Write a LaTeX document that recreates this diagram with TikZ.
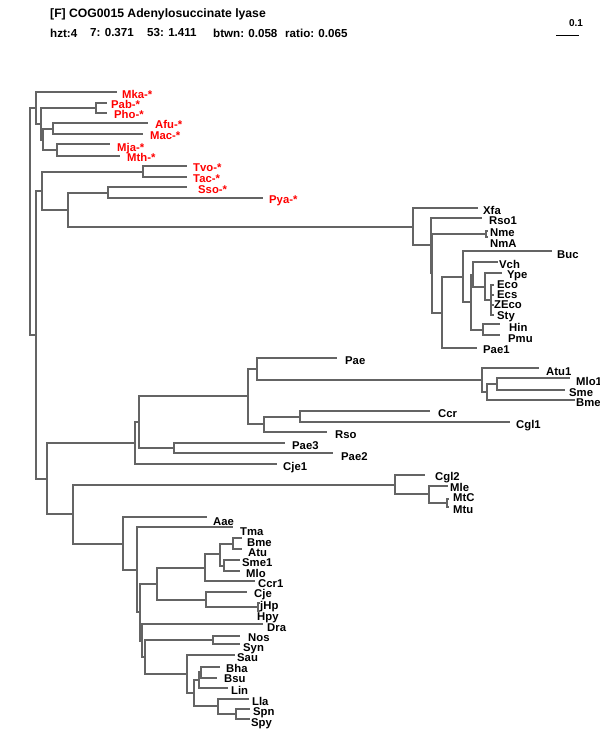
\documentclass[tikz,border=0pt]{standalone}
\usepackage{fontspec}
\setmainfont{Liberation Sans}
\usepackage{xcolor}
\definecolor{branchgray}{RGB}{100,100,100}
\definecolor{archred}{RGB}{255,0,0}

\begin{document}
\begin{tikzpicture}[x=1pt, y=-1pt,
  branch/.style={draw=branchgray, line width=2pt},
  lab/.style={anchor=west, inner sep=0pt, text height=8pt, text depth=0pt,
    font=\bfseries\fontsize{11.3}{12}\selectfont},
  archlab/.style={lab, text=archred},
  head/.style={anchor=west, inner sep=0pt, font=\bfseries\fontsize{12.2}{14}\selectfont},
  stat/.style={head, font=\bfseries\fontsize{11.6}{14}\selectfont}]

  \useasboundingbox (0,0) rectangle (600,750);

  % Titulo e estatisticas
  \node[head] (title) at (50,14) {[F] COG0015 Adenylosuccinate lyase};
  \node[stat] (hzt) at (50,33) {hzt:4};
  \node[stat] (s7) at (90,33) {7: 0.371};
  \node[stat] (s53) at (147,33) {53: 1.411};
  \node[stat] (btwn) at (213,33) {btwn: 0.058};
  \node[stat] (ratio) at (285,33) {ratio: 0.065};

  % Barra de escala
  \node[head, anchor=center, font=\bfseries\fontsize{10}{12}\selectfont] (scale) at (576,23) {0.1};
  \coordinate (sbl) at (556,35);
  \coordinate (sbr) at (579,35);
  \draw[black, line width=1pt] (sbl) -- (sbr);

  % Nos internos: raiz e archaea
  \coordinate (r0) at (30,221);
  \coordinate (t1) at (36,108);
  \coordinate (b1) at (41,124);
  \coordinate (pp) at (96,108);
  \coordinate (c1) at (43,140);
  \coordinate (d1) at (53,129);
  \coordinate (e1) at (57,150);
  \coordinate (t2) at (36,335);
  \coordinate (f0) at (42,191);
  \coordinate (f1) at (143,172);
  \coordinate (g1) at (68,210);
  \coordinate (h1) at (108,193);

  % Nos internos: proteobacteria (topo)
  \coordinate (i1) at (413,227);
  \coordinate (j1) at (431,245);
  \coordinate (k1) at (432,273);
  \coordinate (nn) at (486,234);
  \coordinate (l1) at (442,313);
  \coordinate (m1) at (463,277);
  \coordinate (n1) at (471,302);
  \coordinate (p1) at (473,275);
  \coordinate (r1) at (485,287);
  \coordinate (s1) at (491,300);
  \coordinate (q1) at (483,330);

  % Nos internos: grupo do meio
  \coordinate (m0) at (47,479);
  \coordinate (tt) at (135,443);
  \coordinate (u1) at (139,422);
  \coordinate (v1) at (248,396);
  \coordinate (w1) at (257,369);
  \coordinate (x1) at (482,380);
  \coordinate (y1) at (487,392);
  \coordinate (z1) at (497,384);
  \coordinate (aa) at (264,424);
  \coordinate (ab) at (300,417);
  \coordinate (pq) at (174,448);
  \coordinate (ac) at (73,514);
  \coordinate (ad) at (395,485);
  \coordinate (ae) at (429,494);
  \coordinate (af) at (447,503);

  % Nos internos: grupo de baixo
  \coordinate (ag) at (123,544);
  \coordinate (ah) at (137,570);
  \coordinate (ai) at (140,612);
  \coordinate (aj) at (157,584);
  \coordinate (ak) at (205,568);
  \coordinate (am) at (220,554);
  \coordinate (ba) at (233,544);
  \coordinate (sm) at (224,566);
  \coordinate (cj) at (206,600);
  \coordinate (hp) at (258,607);
  \coordinate (an) at (142,641);
  \coordinate (ao) at (145,657);
  \coordinate (ns) at (213,640);
  \coordinate (ap) at (187,674);
  \coordinate (aq) at (194,693);
  \coordinate (ar) at (199,680);
  \coordinate (bb) at (201,672);
  \coordinate (as) at (218,706);
  \coordinate (sp) at (236,714);

  % Pontas das folhas
  \coordinate (mka) at (117,92);
  \coordinate (pab) at (107,103);
  \coordinate (pho) at (107,113);
  \coordinate (afu) at (148,123);
  \coordinate (mac) at (143,134);
  \coordinate (mja) at (110,144);
  \coordinate (mth) at (120,156);
  \coordinate (tvo) at (187,166);
  \coordinate (tac) at (187,177);
  \coordinate (sso) at (187,187);
  \coordinate (pya) at (263,198);
  \coordinate (xfa) at (478,208);
  \coordinate (rso1) at (482,218);
  \coordinate (nme) at (488,231);
  \coordinate (nma) at (488,237);
  \coordinate (buc) at (552,251);
  \coordinate (vch) at (498,262);
  \coordinate (ype) at (502,273);
  \coordinate (eco) at (494,285);
  \coordinate (ecs) at (494,295);
  \coordinate (zeco) at (494,305);
  \coordinate (sty) at (494,315);
  \coordinate (hin) at (500,324);
  \coordinate (pmu) at (500,335);
  \coordinate (pae1) at (477,348);
  \coordinate (pae) at (337,358);
  \coordinate (atu1) at (539,368);
  \coordinate (mlo1) at (570,378);
  \coordinate (sme) at (565,390);
  \coordinate (bme) at (575,400);
  \coordinate (ccr) at (430,411);
  \coordinate (cgl1) at (510,422);
  \coordinate (rso) at (327,432);
  \coordinate (pae3) at (285,443);
  \coordinate (pae2) at (333,453);
  \coordinate (cje1) at (277,464);
  \coordinate (cgl2) at (425,475);
  \coordinate (mle) at (448,486);
  \coordinate (mtc) at (449,499);
  \coordinate (mtu) at (449,507);
  \coordinate (aae) at (207,517);
  \coordinate (tma) at (233,527);
  \coordinate (bme2) at (242,538);
  \coordinate (atu) at (242,549);
  \coordinate (sme1) at (240,560);
  \coordinate (mlo) at (240,571);
  \coordinate (ccr1) at (255,581);
  \coordinate (cje) at (247,592);
  \coordinate (jhp) at (260,603);
  \coordinate (hpy) at (260,611);
  \coordinate (dra) at (263,624);
  \coordinate (nos) at (240,636);
  \coordinate (syn) at (240,644);
  \coordinate (sau) at (235,655);
  \coordinate (bha) at (220,667);
  \coordinate (bsu) at (217,678);
  \coordinate (lin) at (228,688);
  \coordinate (lla) at (249,699);
  \coordinate (spn) at (250,709);
  \coordinate (spy) at (250,719);

  % Ramos (cotovelos: vertical no pai, horizontal ate o filho)
  \draw[branch] (r0) |- (t1) (r0) |- (t2);
  \draw[branch] (t1) |- (mka) (t1) |- (b1);
  \draw[branch] (b1) |- (pp) (b1) |- (c1);
  \draw[branch] (pp) |- (pab) (pp) |- (pho);
  \draw[branch] (c1) |- (d1) (c1) |- (e1);
  \draw[branch] (d1) |- (afu) (d1) |- (mac);
  \draw[branch] (e1) |- (mja) (e1) |- (mth);
  \draw[branch] (t2) |- (f0) (t2) |- (m0);
  \draw[branch] (f0) |- (f1) (f0) |- (g1);
  \draw[branch] (f1) |- (tvo) (f1) |- (tac);
  \draw[branch] (g1) |- (h1) (g1) |- (i1);
  \draw[branch] (h1) |- (sso) (h1) |- (pya);
  \draw[branch] (i1) |- (xfa) (i1) |- (j1);
  \draw[branch] (j1) |- (rso1) (j1) |- (k1);
  \draw[branch] (k1) |- (nn) (k1) |- (l1);
  \draw[branch] (nn) |- (nme) (nn) |- (nma);
  \draw[branch] (l1) |- (m1) (l1) |- (pae1);
  \draw[branch] (m1) |- (buc) (m1) |- (n1);
  \draw[branch] (n1) |- (p1) (n1) |- (q1);
  \draw[branch] (p1) |- (vch) (p1) |- (r1);
  \draw[branch] (r1) |- (ype) (r1) |- (s1);
  \draw[branch] (s1) |- (eco) (s1) |- (ecs) (s1) |- (zeco) (s1) |- (sty);
  \draw[branch] (q1) |- (hin) (q1) |- (pmu);
  \draw[branch] (m0) |- (tt) (m0) |- (ac);
  \draw[branch] (tt) |- (u1) (tt) |- (cje1);
  \draw[branch] (u1) |- (v1) (u1) |- (pq);
  \draw[branch] (pq) |- (pae3) (pq) |- (pae2);
  \draw[branch] (v1) |- (w1) (v1) |- (aa);
  \draw[branch] (w1) |- (pae) (w1) |- (x1);
  \draw[branch] (x1) |- (atu1) (x1) |- (y1);
  \draw[branch] (y1) |- (z1) (y1) |- (bme);
  \draw[branch] (z1) |- (mlo1) (z1) |- (sme);
  \draw[branch] (aa) |- (ab) (aa) |- (rso);
  \draw[branch] (ab) |- (ccr) (ab) |- (cgl1);
  \draw[branch] (ac) |- (ad) (ac) |- (ag);
  \draw[branch] (ad) |- (cgl2) (ad) |- (ae);
  \draw[branch] (ae) |- (mle) (ae) |- (af);
  \draw[branch] (af) |- (mtc) (af) |- (mtu);
  \draw[branch] (ag) |- (aae) (ag) |- (ah);
  \draw[branch] (ah) |- (tma) (ah) |- (ai);
  \draw[branch] (ai) |- (aj) (ai) |- (an);
  \draw[branch] (aj) |- (ak) (aj) |- (cj);
  \draw[branch] (ak) |- (am) (ak) |- (ccr1);
  \draw[branch] (am) |- (ba) (am) |- (sm);
  \draw[branch] (ba) |- (bme2) (ba) |- (atu);
  \draw[branch] (sm) |- (sme1) (sm) |- (mlo);
  \draw[branch] (cj) |- (cje) (cj) |- (hp);
  \draw[branch] (hp) |- (jhp) (hp) |- (hpy);
  \draw[branch] (an) |- (dra) (an) |- (ao);
  \draw[branch] (ao) |- (ns) (ao) |- (ap);
  \draw[branch] (ns) |- (nos) (ns) |- (syn);
  \draw[branch] (ap) |- (sau) (ap) |- (aq);
  \draw[branch] (aq) |- (ar) (aq) |- (as);
  \draw[branch] (ar) |- (bb) (ar) |- (lin);
  \draw[branch] (bb) |- (bha) (bb) |- (bsu);
  \draw[branch] (as) |- (lla) (as) |- (sp);
  \draw[branch] (sp) |- (spn) (sp) |- (spy);

  % Rotulos das archaea (vermelho)
  \node[archlab] (Lmka) at (122,94) {Mka-*};
  \node[archlab] (Lpab) at (111,104) {Pab-*};
  \node[archlab] (Lpho) at (114,114) {Pho-*};
  \node[archlab] (Lafu) at (155,124) {Afu-*};
  \node[archlab] (Lmac) at (150,135) {Mac-*};
  \node[archlab] (Lmja) at (117,147) {Mja-*};
  \node[archlab] (Lmth) at (127,157) {Mth-*};
  \node[archlab] (Ltvo) at (193,167) {Tvo-*};
  \node[archlab] (Ltac) at (193,178) {Tac-*};
  \node[archlab] (Lsso) at (198,189) {Sso-*};
  \node[archlab] (Lpya) at (269,199) {Pya-*};

  % Rotulos das bacterias
  \node[lab] (Lxfa) at (483,210) {Xfa};
  \node[lab] (Lrso1) at (489,220) {Rso1};
  \node[lab] (Lnme) at (490,232) {Nme};
  \node[lab] (Lnma) at (490,243) {NmA};
  \node[lab] (Lbuc) at (557,254) {Buc};
  \node[lab] (Lvch) at (499,264) {Vch};
  \node[lab] (Lype) at (507,274) {Ype};
  \node[lab] (Leco) at (497,284) {Eco};
  \node[lab] (Lecs) at (497,294) {Ecs};
  \node[lab] (Lzeco) at (494,304) {ZEco};
  \node[lab] (Lsty) at (497,315) {Sty};
  \node[lab] (Lhin) at (509,327) {Hin};
  \node[lab] (Lpmu) at (508,338) {Pmu};
  \node[lab] (Lpae1) at (483,349) {Pae1};
  \node[lab] (Lpae) at (345,360) {Pae};
  \node[lab] (Latu1) at (546,371) {Atu1};
  \node[lab] (Lmlo1) at (576,381) {Mlo1};
  \node[lab] (Lsme) at (569,392) {Sme};
  \node[lab] (Lbme) at (576,402) {Bme};
  \node[lab] (Lccr) at (438,413) {Ccr};
  \node[lab] (Lcgl1) at (516,424) {Cgl1};
  \node[lab] (Lrso) at (335,434) {Rso};
  \node[lab] (Lpae3) at (292,445) {Pae3};
  \node[lab] (Lpae2) at (341,456) {Pae2};
  \node[lab] (Lcje1) at (283,466) {Cje1};
  \node[lab] (Lcgl2) at (435,476) {Cgl2};
  \node[lab] (Lmle) at (450,487) {Mle};
  \node[lab] (Lmtc) at (453,497) {MtC};
  \node[lab] (Lmtu) at (453,509) {Mtu};
  \node[lab] (Laae) at (213,521) {Aae};
  \node[lab] (Ltma) at (240,531) {Tma};
  \node[lab] (Lbme2) at (247,542) {Bme};
  \node[lab] (Latu) at (248,552) {Atu};
  \node[lab] (Lsme1) at (242,562) {Sme1};
  \node[lab] (Lmlo) at (246,573) {Mlo};
  \node[lab] (Lccr1) at (258,583) {Ccr1};
  \node[lab] (Lcje) at (254,593) {Cje};
  \node[lab] (Ljhp) at (260,605) {jHp};
  \node[lab] (Lhpy) at (257,616) {Hpy};
  \node[lab] (Ldra) at (267,627) {Dra};
  \node[lab] (Lnos) at (248,637) {Nos};
  \node[lab] (Lsyn) at (243,647) {Syn};
  \node[lab] (Lsau) at (237,657) {Sau};
  \node[lab] (Lbha) at (226,668) {Bha};
  \node[lab] (Lbsu) at (224,678) {Bsu};
  \node[lab] (Llin) at (231,690) {Lin};
  \node[lab] (Llla) at (252,701) {Lla};
  \node[lab] (Lspn) at (253,711) {Spn};
  \node[lab] (Lspy) at (251,722) {Spy};

\end{tikzpicture}
\end{document}
